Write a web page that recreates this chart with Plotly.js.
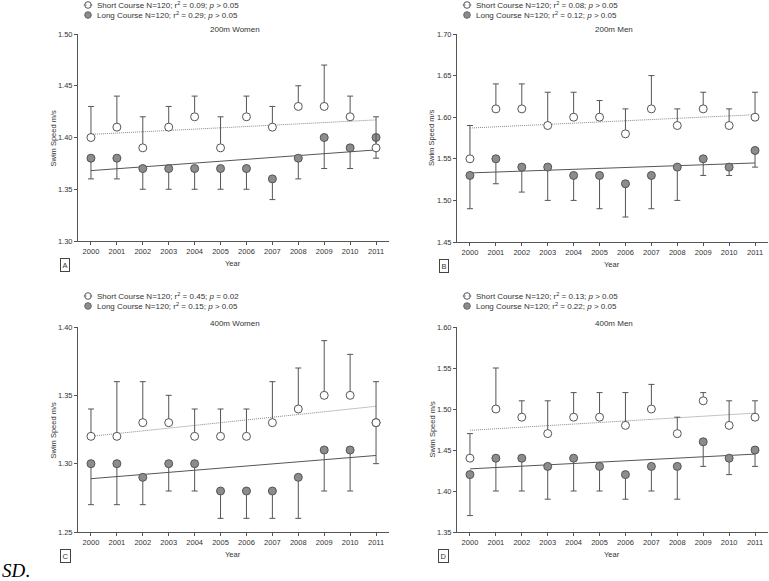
<!DOCTYPE html>
<html>
<head>
<meta charset="utf-8">
<script src="https://cdn.plot.ly/plotly-3.0.1.min.js"></script>
<style>html,body{margin:0;padding:0;background:#fff;}#chart{width:769px;height:581px;}</style>
</head>
<body>
<div id="chart"></div>
<script>
// ---------- data ----------
const years = [2000, 2001, 2002, 2003, 2004, 2005, 2006, 2007, 2008, 2009, 2010, 2011];
const trendYears = [2000, 2011];

// A: 200m Women
const w200Short      = [1.40, 1.41, 1.39, 1.41, 1.42, 1.39, 1.42, 1.41, 1.43, 1.43, 1.42, 1.39];
const w200ShortUpper = [1.43, 1.44, 1.42, 1.43, 1.44, 1.42, 1.44, 1.43, 1.45, 1.47, 1.44, 1.42];
const w200Long       = [1.38, 1.38, 1.37, 1.37, 1.37, 1.37, 1.37, 1.36, 1.38, 1.40, 1.39, 1.40];
const w200LongLower  = [1.36, 1.36, 1.35, 1.35, 1.35, 1.35, 1.35, 1.34, 1.36, 1.37, 1.37, 1.38];
const w200ShortTrend = [1.403, 1.417];
const w200LongTrend  = [1.368, 1.388];

// B: 200m Men
const m200Short      = [1.55, 1.61, 1.61, 1.59, 1.60, 1.60, 1.58, 1.61, 1.59, 1.61, 1.59, 1.60];
const m200ShortUpper = [1.59, 1.64, 1.64, 1.63, 1.63, 1.62, 1.61, 1.65, 1.61, 1.63, 1.61, 1.63];
const m200Long       = [1.53, 1.55, 1.54, 1.54, 1.53, 1.53, 1.52, 1.53, 1.54, 1.55, 1.54, 1.56];
const m200LongLower  = [1.49, 1.52, 1.51, 1.50, 1.50, 1.49, 1.48, 1.49, 1.50, 1.53, 1.53, 1.54];
const m200ShortTrend = [1.587, 1.603];
const m200LongTrend  = [1.533, 1.545];

// C: 400m Women
const w400Short      = [1.32, 1.32, 1.33, 1.33, 1.32, 1.32, 1.32, 1.33, 1.34, 1.35, 1.35, 1.33];
const w400ShortUpper = [1.34, 1.36, 1.36, 1.35, 1.34, 1.34, 1.34, 1.36, 1.37, 1.39, 1.38, 1.36];
const w400Long       = [1.30, 1.30, 1.29, 1.30, 1.30, 1.28, 1.28, 1.28, 1.29, 1.31, 1.31, 1.33];
const w400LongLower  = [1.27, 1.27, 1.27, 1.28, 1.28, 1.26, 1.26, 1.26, 1.26, 1.28, 1.28, 1.30];
const w400ShortTrend = [1.320, 1.342];
const w400LongTrend  = [1.289, 1.306];

// D: 400m Men
const m400Short      = [1.44, 1.50, 1.49, 1.47, 1.49, 1.49, 1.48, 1.50, 1.47, 1.51, 1.48, 1.49];
const m400ShortUpper = [1.47, 1.55, 1.51, 1.51, 1.52, 1.52, 1.52, 1.53, 1.49, 1.52, 1.51, 1.51];
const m400Long       = [1.42, 1.44, 1.44, 1.43, 1.44, 1.43, 1.42, 1.43, 1.43, 1.46, 1.44, 1.45];
const m400LongLower  = [1.37, 1.40, 1.40, 1.39, 1.40, 1.40, 1.39, 1.40, 1.39, 1.43, 1.42, 1.43];
const m400ShortTrend = [1.474, 1.495];
const m400LongTrend  = [1.427, 1.445];

const panelTitles  = ["200m Women", "200m Men", "400m Women", "400m Men"];
const panelLetters = ["A", "B", "C", "D"];
const yRanges = [[1.30, 1.50], [1.45, 1.70], [1.25, 1.40], [1.35, 1.60]];
const shortLabels = [
  "Short Course N=120; r<sup>2</sup> = 0.09; <i>p</i> > 0.05",
  "Short Course N=120; r<sup>2</sup> = 0.08; <i>p</i> > 0.05",
  "Short Course N=120; r<sup>2</sup> = 0.45; <i>p</i> = 0.02",
  "Short Course N=120; r<sup>2</sup> = 0.13; <i>p</i> > 0.05"
];
const longLabels = [
  "Long Course N=120; r<sup>2</sup> = 0.29; <i>p</i> > 0.05",
  "Long Course N=120; r<sup>2</sup> = 0.12; <i>p</i> > 0.05",
  "Long Course N=120; r<sup>2</sup> = 0.15; <i>p</i> > 0.05",
  "Long Course N=120; r<sup>2</sup> = 0.22; <i>p</i> > 0.05"
];

// ---------- layout helpers ----------
const W = 769, H = 581;
const px = v => v / W;
const py = v => 1 - v / H;
const FONT = "Liberation Sans, Arial, sans-serif";
const AX = "#555555";
const TXT = "#333333";

// pixel geometry for each panel: [left, right, top, bottom, legendOffset]
const boxes = [[78, 389, 34, 241, 29], [457, 768, 34, 242, 29], [78, 389, 327, 532, 31], [457, 768, 327, 532, 31]];

const panels = [
  [w200Short, w200ShortUpper, w200Long, w200LongLower, w200ShortTrend, w200LongTrend],
  [m200Short, m200ShortUpper, m200Long, m200LongLower, m200ShortTrend, m200LongTrend],
  [w400Short, w400ShortUpper, w400Long, w400LongLower, w400ShortTrend, w400LongTrend],
  [m400Short, m400ShortUpper, m400Long, m400LongLower, m400ShortTrend, m400LongTrend]
];

const traces = [];
const layout = {
  width: W, height: H,
  margin: {l: 0, r: 0, t: 0, b: 0},
  paper_bgcolor: "#fff", plot_bgcolor: "#fff",
  showlegend: false,
  font: {family: FONT, size: 7.5, color: TXT},
  annotations: [], shapes: []
};

panels.forEach((p, i) => {
  const [sv, su, lv, ll, st, lt] = p;
  const n = i + 1;
  const xa = n === 1 ? "x" : "x" + n;
  const ya = n === 1 ? "y" : "y" + n;
  const b = boxes[i];

  // trend lines
  traces.push({x: trendYears, y: lt, xaxis: xa, yaxis: ya, mode: "lines",
    line: {color: "#555", width: 1}, hoverinfo: "skip"});
  traces.push({x: trendYears, y: st, xaxis: xa, yaxis: ya, mode: "lines",
    line: {color: "#888", width: 1, dash: "1px,1px"}, hoverinfo: "skip"});
  // long course (filled) with downward SD
  traces.push({x: years, y: lv, xaxis: xa, yaxis: ya, mode: "markers",
    marker: {symbol: "circle", size: 8, color: "#8c8c8c", line: {color: "#555", width: 1}},
    error_y: {type: "data", symmetric: false, array: lv.map(() => 0),
      arrayminus: lv.map((v, k) => +(v - ll[k]).toFixed(3)), color: "#555", thickness: 1, width: 3},
    cliponaxis: false});
  // short course (open) with upward SD
  traces.push({x: years, y: sv, xaxis: xa, yaxis: ya, mode: "markers",
    marker: {symbol: "circle", size: 8, color: "#ffffff", line: {color: "#555", width: 1}},
    error_y: {type: "data", symmetric: false, array: sv.map((v, k) => +(su[k] - v).toFixed(3)),
      arrayminus: sv.map(() => 0), color: "#555", thickness: 1, width: 3},
    cliponaxis: false});

  const xKey = n === 1 ? "xaxis" : "xaxis" + n;
  const yKey = n === 1 ? "yaxis" : "yaxis" + n;
  layout[xKey] = {
    domain: [px(b[0]), px(b[1])], anchor: ya, range: [1999.5, 2011.5],
    tickmode: "array", tickvals: years, ticktext: years.map(String),
    showline: true, linecolor: AX, linewidth: 1, ticks: "outside", ticklen: 3, tickcolor: AX,
    showgrid: false, zeroline: false, fixedrange: true,
    tickfont: {family: FONT, size: 7.5, color: TXT}
  };
  layout[yKey] = {
    domain: [py(b[3]), py(b[2])], anchor: xa, range: yRanges[i],
    dtick: 0.05, tick0: 0, tickformat: ".2f",
    showline: true, linecolor: AX, linewidth: 1, ticks: "outside", ticklen: 3, tickcolor: AX,
    showgrid: false, zeroline: false, fixedrange: true,
    tickfont: {family: FONT, size: 7.5, color: TXT}
  };

  // panel title
  layout.annotations.push({xref: "paper", yref: "paper", x: px(b[0] + 157), y: py(b[2] - 4),
    text: panelTitles[i], showarrow: false, xanchor: "center", yanchor: "middle",
    font: {family: FONT, size: 8, color: TXT}});
  // axis titles
  layout.annotations.push({xref: "paper", yref: "paper", x: px(b[0] + 155), y: py(b[3] + 22),
    text: "Year", showarrow: false, xanchor: "center", yanchor: "middle",
    font: {family: FONT, size: 7.5, color: TXT}});
  layout.annotations.push({xref: "paper", yref: "paper", x: px(b[0] - 25), y: py((b[2] + b[3]) / 2),
    text: "Swim Speed m/s", textangle: -90, showarrow: false, xanchor: "center", yanchor: "middle",
    font: {family: FONT, size: 7.5, color: TXT}});
  // panel letter box
  layout.annotations.push({xref: "paper", yref: "paper", x: px(b[0] - 13), y: py(b[3] + 24),
    text: panelLetters[i], showarrow: false, xanchor: "center", yanchor: "middle",
    bordercolor: "#444", borderwidth: 1, borderpad: 1.5,
    font: {family: FONT, size: 7.5, color: TXT}});

  // legend
  const lx = b[0] + 10, ly1 = b[2] - b[4], ly2 = b[2] - b[4] + 10, r = 3.3;
  layout.shapes.push({type: "circle", xref: "paper", yref: "paper",
    x0: px(lx - r), x1: px(lx + r), y0: py(ly1 + r), y1: py(ly1 - r),
    fillcolor: "#fff", line: {color: "#555", width: 1}});
  layout.shapes.push({type: "line", xref: "paper", yref: "paper",
    x0: px(lx - r - 1), x1: px(lx + r + 1), y0: py(ly1), y1: py(ly1),
    line: {color: "#777", width: 1, dash: "dot"}});
  layout.shapes.push({type: "circle", xref: "paper", yref: "paper",
    x0: px(lx - r), x1: px(lx + r), y0: py(ly2 + r), y1: py(ly2 - r),
    fillcolor: "#8c8c8c", line: {color: "#666", width: 1}});
  layout.annotations.push({xref: "paper", yref: "paper", x: px(lx + 7), y: py(ly1),
    text: shortLabels[i], showarrow: false, xanchor: "left", yanchor: "middle",
    font: {family: FONT, size: 8, color: TXT}});
  layout.annotations.push({xref: "paper", yref: "paper", x: px(lx + 7), y: py(ly2),
    text: longLabels[i], showarrow: false, xanchor: "left", yanchor: "middle",
    font: {family: FONT, size: 8, color: TXT}});
});

// caption fragment bottom-left
layout.annotations.push({xref: "paper", yref: "paper", x: 0, y: py(570),
  text: "<i>SD</i>.", showarrow: false, xanchor: "left", yanchor: "middle",
  font: {family: "Liberation Serif, Times New Roman, serif", size: 19, color: "#000"}});

Plotly.newPlot("chart", traces, layout, {displayModeBar: false, staticPlot: true});
</script>
</body>
</html>
